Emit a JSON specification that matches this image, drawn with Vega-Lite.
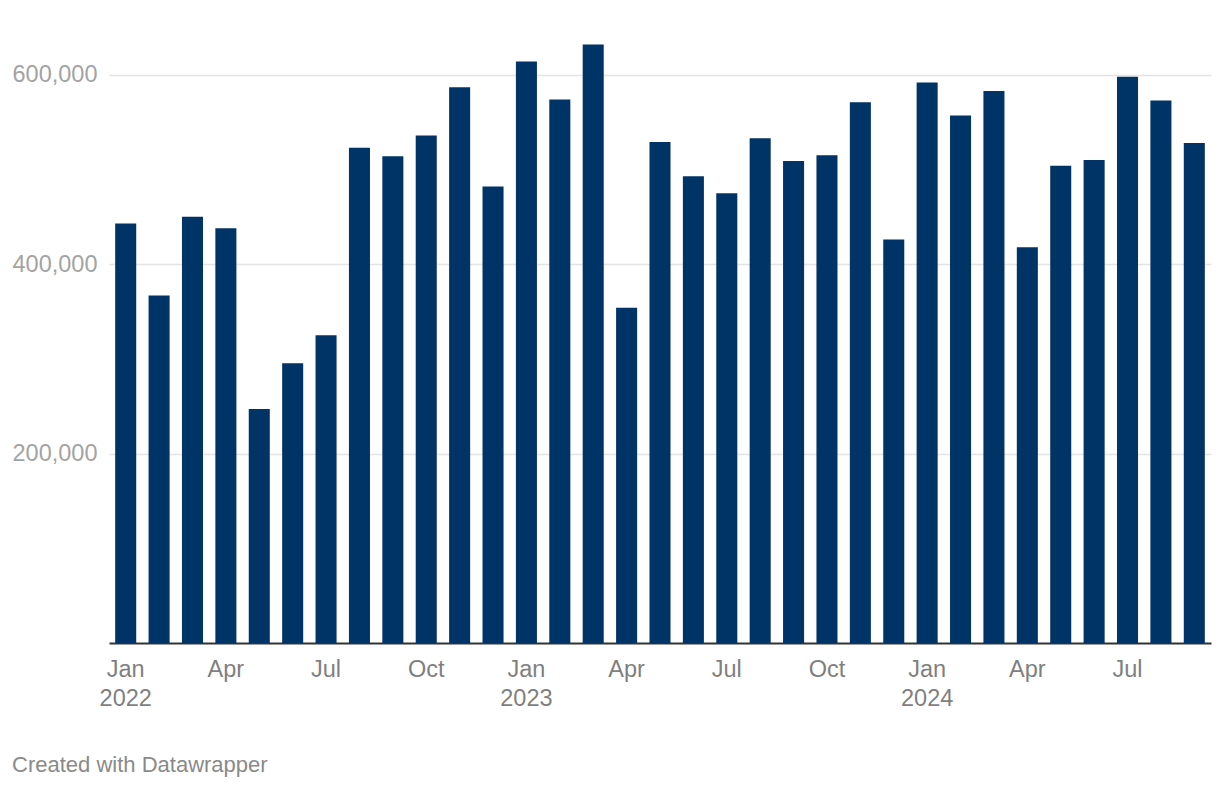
{
  "$schema": "https://vega.github.io/schema/vega-lite/v6.json",
  "autosize": {"type": "none"},
  "width": 1102,
  "height": 625,
  "padding": {"left": 109, "top": 18, "right": 9, "bottom": 145},
  "background": "white",
  "config": {"view": {"stroke": null}, "font": "Liberation Sans"},
  "title": {
    "text": "Created with Datawrapper",
    "orient": "bottom",
    "anchor": "start",
    "frame": "bounds",
    "offset": 45,
    "fontSize": 22,
    "fontWeight": "normal",
    "color": "#8a8a8a",
    "font": "Liberation Sans"
  },
  "data": {
    "values": [
      {"date": "2022-01-15", "value": 443000},
      {"date": "2022-02-15", "value": 367000},
      {"date": "2022-03-15", "value": 450000},
      {"date": "2022-04-15", "value": 438000},
      {"date": "2022-05-15", "value": 247000},
      {"date": "2022-06-15", "value": 295500},
      {"date": "2022-07-15", "value": 325000},
      {"date": "2022-08-15", "value": 523000},
      {"date": "2022-09-15", "value": 514000},
      {"date": "2022-10-15", "value": 536000},
      {"date": "2022-11-15", "value": 587000},
      {"date": "2022-12-15", "value": 482000},
      {"date": "2023-01-15", "value": 614000},
      {"date": "2023-02-15", "value": 574000},
      {"date": "2023-03-15", "value": 632000},
      {"date": "2023-04-15", "value": 354000},
      {"date": "2023-05-15", "value": 529000},
      {"date": "2023-06-15", "value": 493000},
      {"date": "2023-07-15", "value": 475000},
      {"date": "2023-08-15", "value": 533000},
      {"date": "2023-09-15", "value": 509000},
      {"date": "2023-10-15", "value": 515000},
      {"date": "2023-11-15", "value": 571000},
      {"date": "2023-12-15", "value": 426000},
      {"date": "2024-01-15", "value": 592000},
      {"date": "2024-02-15", "value": 557000},
      {"date": "2024-03-15", "value": 583000},
      {"date": "2024-04-15", "value": 418000},
      {"date": "2024-05-15", "value": 504000},
      {"date": "2024-06-15", "value": 510000},
      {"date": "2024-07-15", "value": 598000},
      {"date": "2024-08-15", "value": 573000},
      {"date": "2024-09-15", "value": 528000}
    ]
  },
  "mark": {"type": "bar", "color": "#003366"},
  "encoding": {
    "x": {
      "field": "date",
      "timeUnit": "yearmonth",
      "type": "ordinal",
      "scale": {"paddingInner": 0.37, "paddingOuter": 0.185},
      "axis": {
        "title": null,
        "ticks": false,
        "domainColor": "#333333",
        "domainWidth": 2,
        "labelAngle": 0,
        "labelFontSize": 23.5,
        "labelColor": "#7f7f7f",
        "labelPadding": 14,
        "labelBaseline": "top",
        "labelLineHeight": 29,
        "labelFont": "Liberation Sans",
        "labelOverlap": false,
        "labelExpr": "month(datum.value)==0 ? [timeFormat(datum.value,'%b'), timeFormat(datum.value,'%Y')] : (month(datum.value)%3==0 ? timeFormat(datum.value,'%b') : '')"
      }
    },
    "y": {
      "field": "value",
      "type": "quantitative",
      "scale": {"domain": [0, 660000], "nice": false},
      "axis": {
        "title": null,
        "values": [200000, 400000, 600000],
        "labelExpr": "format(datum.value, ',.0f')",
        "domain": false,
        "ticks": false,
        "grid": true,
        "gridColor": "#e3e3e3",
        "gridWidth": 1.5,
        "labelFontSize": 23.5,
        "labelColor": "#a3a3a3",
        "labelPadding": 12,
        "labelFont": "Liberation Sans"
      }
    }
  }
}
